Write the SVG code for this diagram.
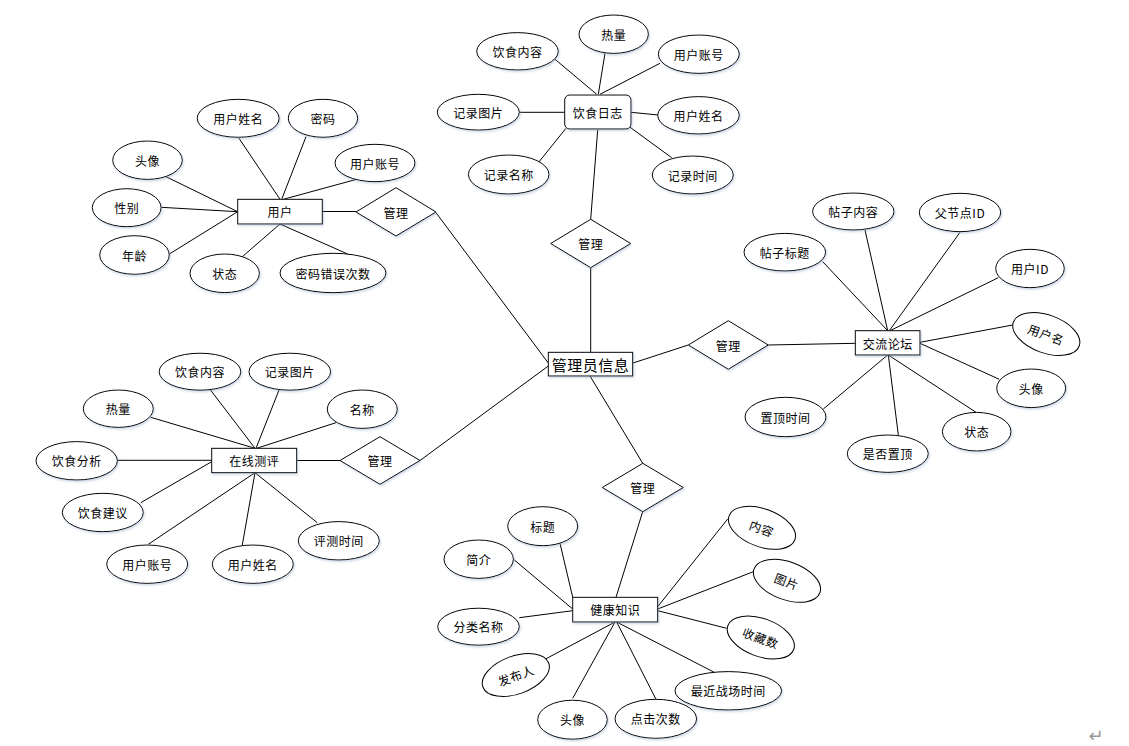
<svg xmlns="http://www.w3.org/2000/svg" width="1129" height="746" viewBox="0 0 1129 746">
<style>
.e,.r,.d{fill:#fff;stroke:#000;stroke-width:1;filter:url(#sh)}
.e.rot{filter:none}
.t{font-family:"Noto Sans CJK SC","Liberation Sans",sans-serif;font-size:12px;fill:#000;text-anchor:middle;dominant-baseline:central;letter-spacing:0.5px}
.big{font-size:15px;letter-spacing:0.5px}
#conn line{stroke:#000;stroke-width:1}
</style>
<defs>
<filter id="sh" x="-20%" y="-20%" width="150%" height="150%">
<feDropShadow dx="1" dy="1.5" stdDeviation="1" flood-color="#8fa6c8" flood-opacity="0.45"/>
</filter>
</defs>
<rect width="1129" height="746" fill="#fff"/>
<g id="conn">
<line x1="590.7" y1="267.7" x2="590.7" y2="352"/>
<line x1="633" y1="363" x2="688.3" y2="345"/>
<line x1="436" y1="212.7" x2="548.3" y2="363"/>
<line x1="548.3" y1="366" x2="420" y2="460.5"/>
<line x1="590" y1="376" x2="642.7" y2="463.3"/>
<line x1="322" y1="211.5" x2="356" y2="211.5"/>
<line x1="239" y1="138.3" x2="280" y2="199.3"/>
<line x1="306" y1="136.7" x2="281.7" y2="199.3"/>
<line x1="356.7" y1="179.3" x2="283.3" y2="199.3"/>
<line x1="166" y1="176.7" x2="237.7" y2="211.7"/>
<line x1="161" y1="207.3" x2="237.7" y2="211.7"/>
<line x1="169.3" y1="254" x2="237.7" y2="211.7"/>
<line x1="242.3" y1="256.7" x2="280" y2="224"/>
<line x1="348.3" y1="254.3" x2="280" y2="224"/>
<line x1="555" y1="59.3" x2="596.7" y2="94.3"/>
<line x1="605" y1="53.3" x2="598.3" y2="94.3"/>
<line x1="660" y1="63.3" x2="600" y2="94.3"/>
<line x1="519.3" y1="112.3" x2="564.7" y2="112.3"/>
<line x1="631" y1="112.3" x2="658.3" y2="115"/>
<line x1="538.3" y1="162.7" x2="566" y2="128.3"/>
<line x1="671.7" y1="157.7" x2="629.3" y2="126.7"/>
<line x1="597.7" y1="130" x2="590.7" y2="219.3"/>
<line x1="768.3" y1="345" x2="855.3" y2="343.3"/>
<line x1="822.7" y1="261.7" x2="887.7" y2="330.7"/>
<line x1="865" y1="230" x2="887.7" y2="330.7"/>
<line x1="960" y1="232.3" x2="889.3" y2="330.7"/>
<line x1="998.3" y1="277.7" x2="890" y2="330.7"/>
<line x1="1012.7" y1="325" x2="920" y2="342.3"/>
<line x1="999.3" y1="379.3" x2="920" y2="343.3"/>
<line x1="976" y1="412.3" x2="888.3" y2="355"/>
<line x1="898.3" y1="435" x2="888.3" y2="355"/>
<line x1="823.3" y1="409" x2="887.7" y2="355"/>
<line x1="296.7" y1="460.5" x2="340" y2="460.5"/>
<line x1="150.7" y1="417.3" x2="255" y2="448.3"/>
<line x1="210" y1="389.3" x2="255" y2="448.3"/>
<line x1="279.3" y1="389.3" x2="256" y2="448.3"/>
<line x1="336" y1="422.7" x2="256.7" y2="448.3"/>
<line x1="117.3" y1="460.3" x2="211.7" y2="460.3"/>
<line x1="140.7" y1="502.7" x2="211.7" y2="461.7"/>
<line x1="148.3" y1="544.3" x2="255" y2="472.7"/>
<line x1="242.3" y1="545" x2="255" y2="472.7"/>
<line x1="317.3" y1="522.7" x2="255" y2="472.7"/>
<line x1="642.7" y1="511.7" x2="616" y2="597.3"/>
<line x1="560" y1="543.3" x2="572.7" y2="597.3"/>
<line x1="514.3" y1="560" x2="572.7" y2="609"/>
<line x1="519.3" y1="617.7" x2="572.7" y2="610.7"/>
<line x1="545" y1="659.3" x2="615" y2="622"/>
<line x1="572.7" y1="698.3" x2="615" y2="622"/>
<line x1="656" y1="699.3" x2="616.7" y2="622"/>
<line x1="715" y1="672.7" x2="616.7" y2="622"/>
<line x1="727.7" y1="519" x2="657.7" y2="606.7"/>
<line x1="753.3" y1="571.7" x2="657.7" y2="609"/>
<line x1="726.7" y1="628.3" x2="657.7" y2="610.7"/>
</g>

<g id="admin"><rect class="r" x="548.3" y="352.3" width="84.4" height="23.7"/><text class="t big" x="590.5" y="364.5">管理员信息</text></g>
<g id="rel-diet"><polygon class="d" points="590.7,219.3 630.7,243.5 590.7,267.7 550.7,243.5"/><text class="t" x="590.7" y="243.5">管理</text></g>
<g id="rel-forum"><polygon class="d" points="728.3,320.7 768.3,345 728.3,369.3 688.3,345"/><text class="t" x="728.3" y="345">管理</text></g>
<g id="rel-user"><polygon class="d" points="396,187.7 436,212 396,236 356,212"/><text class="t" x="396" y="212">管理</text></g>
<g id="rel-eval"><polygon class="d" points="380,436.7 420,460.5 380,484.3 340,460.5"/><text class="t" x="380" y="460.5">管理</text></g>
<g id="rel-health"><polygon class="d" points="642.8,463.3 683.3,487.5 642.8,511.7 602.3,487.5"/><text class="t" x="642.8" y="487.5">管理</text></g>

<g id="user"><rect class="r" x="237.7" y="199.3" width="84.6" height="24.7"/><text class="t" x="280" y="211.7">用户</text></g>
<g id="u-name"><ellipse class="e" cx="238.2" cy="118.3" rx="41" ry="19"/><text class="t" x="238.2" y="118.3">用户姓名</text></g>
<g id="u-pwd"><ellipse class="e" cx="323" cy="118.3" rx="34.7" ry="19"/><text class="t" x="323" y="118.3">密码</text></g>
<g id="u-acc"><ellipse class="e" cx="375" cy="163" rx="40" ry="18.7"/><text class="t" x="375" y="163">用户账号</text></g>
<g id="u-avatar"><ellipse class="e" cx="147.5" cy="160.2" rx="34.8" ry="19.2"/><text class="t" x="147.5" y="160.2">头像</text></g>
<g id="u-sex"><ellipse class="e" cx="126.7" cy="207.7" rx="34.4" ry="19"/><text class="t" x="126.7" y="207.7">性别</text></g>
<g id="u-age"><ellipse class="e" cx="134.5" cy="255" rx="34.8" ry="19.3"/><text class="t" x="134.5" y="255">年龄</text></g>
<g id="u-state"><ellipse class="e" cx="224.7" cy="273.3" rx="34.7" ry="19.3"/><text class="t" x="224.7" y="273.3">状态</text></g>
<g id="u-err"><ellipse class="e" cx="333" cy="273" rx="53" ry="19.7"/><text class="t" x="333" y="273">密码错误次数</text></g>

<g id="diet"><rect class="r" x="564.7" y="95" width="66.3" height="34" rx="5"/><text class="t" x="597.8" y="112">饮食日志</text></g>
<g id="d-content"><ellipse class="e" cx="517.5" cy="51.3" rx="40.8" ry="18.7"/><text class="t" x="517.5" y="51.3">饮食内容</text></g>
<g id="d-heat"><ellipse class="e" cx="613.7" cy="34.2" rx="34.7" ry="19.2"/><text class="t" x="613.7" y="34.2">热量</text></g>
<g id="d-acc"><ellipse class="e" cx="698.8" cy="54.2" rx="40.5" ry="19.2"/><text class="t" x="698.8" y="54.2">用户账号</text></g>
<g id="d-pic"><ellipse class="e" cx="478.3" cy="112.2" rx="41" ry="17.9"/><text class="t" x="478.3" y="112.2">记录图片</text></g>
<g id="d-uname"><ellipse class="e" cx="698.5" cy="115.3" rx="40.8" ry="18.7"/><text class="t" x="698.5" y="115.3">用户姓名</text></g>
<g id="d-name"><ellipse class="e" cx="508.7" cy="174.5" rx="40.3" ry="19.5"/><text class="t" x="508.7" y="174.5">记录名称</text></g>
<g id="d-time"><ellipse class="e" cx="692.8" cy="175" rx="40.5" ry="19"/><text class="t" x="692.8" y="175">记录时间</text></g>

<g id="forum"><rect class="r" x="855.3" y="330.7" width="64.7" height="24.3"/><text class="t" x="887.7" y="343">交流论坛</text></g>
<g id="f-content"><ellipse class="e" cx="853.3" cy="211.5" rx="40.7" ry="18.5"/><text class="t" x="853.3" y="211.5">帖子内容</text></g>
<g id="f-parent"><ellipse class="e" cx="960" cy="212.5" rx="40.7" ry="19.2"/><text class="t" x="960" y="212.5">父节点ID</text></g>
<g id="f-title"><ellipse class="e" cx="784.8" cy="252.2" rx="40.8" ry="18.8"/><text class="t" x="784.8" y="252.2">帖子标题</text></g>
<g id="f-uid"><ellipse class="e" cx="1030" cy="268.5" rx="34.3" ry="19.2"/><text class="t" x="1030" y="268.5">用户ID</text></g>
<g id="f-uname" transform="rotate(20 1046.3 334)"><ellipse class="e rot" cx="1046.3" cy="334" rx="35" ry="19"/><text class="t" x="1046.3" y="334">用户名</text></g>
<g id="f-avatar"><ellipse class="e" cx="1031.2" cy="388.3" rx="34.5" ry="19.3"/><text class="t" x="1031.2" y="388.3">头像</text></g>
<g id="f-state"><ellipse class="e" cx="976.7" cy="431.7" rx="34.3" ry="19.3"/><text class="t" x="976.7" y="431.7">状态</text></g>
<g id="f-top"><ellipse class="e" cx="887.8" cy="453.7" rx="40.5" ry="18.7"/><text class="t" x="887.8" y="453.7">是否置顶</text></g>
<g id="f-toptime"><ellipse class="e" cx="785.5" cy="417" rx="40.5" ry="19.7"/><text class="t" x="785.5" y="417">置顶时间</text></g>

<g id="eval"><rect class="r" x="211.7" y="448.3" width="85" height="24.4"/><text class="t" x="254.2" y="460.5">在线测评</text></g>
<g id="e-content"><ellipse class="e" cx="200" cy="371.7" rx="40.8" ry="18.5"/><text class="t" x="200" y="371.7">饮食内容</text></g>
<g id="e-pic"><ellipse class="e" cx="289.8" cy="371.7" rx="40.8" ry="18.5"/><text class="t" x="289.8" y="371.7">记录图片</text></g>
<g id="e-heat"><ellipse class="e" cx="118.3" cy="408.7" rx="35" ry="18.7"/><text class="t" x="118.3" y="408.7">热量</text></g>
<g id="e-name"><ellipse class="e" cx="362.3" cy="409.2" rx="35" ry="19.2"/><text class="t" x="362.3" y="409.2">名称</text></g>
<g id="e-analy"><ellipse class="e" cx="76.7" cy="460.8" rx="40.7" ry="19.2"/><text class="t" x="76.7" y="460.8">饮食分析</text></g>
<g id="e-advice"><ellipse class="e" cx="102.8" cy="512.5" rx="40.5" ry="19.2"/><text class="t" x="102.8" y="512.5">饮食建议</text></g>
<g id="e-acc"><ellipse class="e" cx="147.2" cy="564.2" rx="40.5" ry="19.2"/><text class="t" x="147.2" y="564.2">用户账号</text></g>
<g id="e-uname"><ellipse class="e" cx="252.8" cy="564.2" rx="40.5" ry="19.2"/><text class="t" x="252.8" y="564.2">用户姓名</text></g>
<g id="e-time"><ellipse class="e" cx="338.8" cy="540.8" rx="40.5" ry="19.2"/><text class="t" x="338.8" y="540.8">评测时间</text></g>

<g id="health"><rect class="r" x="572.7" y="597.3" width="85" height="24.7"/><text class="t" x="615.2" y="609.7">健康知识</text></g>
<g id="h-title"><ellipse class="e" cx="542.7" cy="526.2" rx="35" ry="19.5"/><text class="t" x="542.7" y="526.2">标题</text></g>
<g id="h-intro"><ellipse class="e" cx="478.7" cy="559.2" rx="34.7" ry="19.2"/><text class="t" x="478.7" y="559.2">简介</text></g>
<g id="h-cat"><ellipse class="e" cx="478.5" cy="626.7" rx="40.8" ry="18.5"/><text class="t" x="478.5" y="626.7">分类名称</text></g>
<g id="h-pub" transform="rotate(-20 515.8 675)"><ellipse class="e rot" cx="515.8" cy="675" rx="35" ry="19"/><text class="t" x="515.8" y="675">发布人</text></g>
<g id="h-avatar"><ellipse class="e" cx="572.5" cy="719.7" rx="34.8" ry="19.5"/><text class="t" x="572.5" y="719.7">头像</text></g>
<g id="h-click"><ellipse class="e" cx="655.8" cy="718.8" rx="40.8" ry="19.5"/><text class="t" x="655.8" y="718.8">点击次数</text></g>
<g id="h-recent"><ellipse class="e" cx="728.3" cy="690.8" rx="53.3" ry="19.2"/><text class="t" x="728.3" y="690.8">最近战场时间</text></g>
<g id="h-content" transform="rotate(20 762 527.8)"><ellipse class="e rot" cx="762" cy="527.8" rx="35" ry="19"/><text class="t" x="762" y="527.8">内容</text></g>
<g id="h-pic" transform="rotate(20 787 580.8)"><ellipse class="e rot" cx="787" cy="580.8" rx="35" ry="19"/><text class="t" x="787" y="580.8">图片</text></g>
<g id="h-fav" transform="rotate(20 760.8 637.5)"><ellipse class="e rot" cx="760.8" cy="637.5" rx="35" ry="19"/><text class="t" x="760.8" y="637.5">收藏数</text></g>

<text x="1096" y="735" font-family="DejaVu Sans,sans-serif" font-size="18" fill="#999" text-anchor="middle" dominant-baseline="central">↵</text>
</svg>
